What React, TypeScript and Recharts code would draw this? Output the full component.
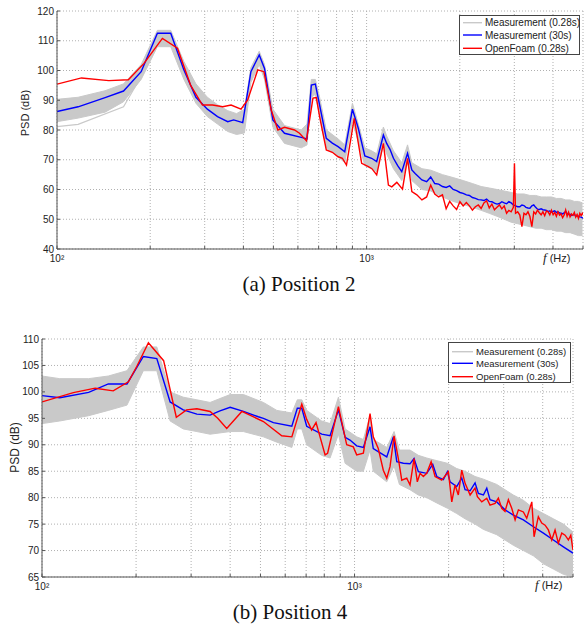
import React from 'react';
import { ComposedChart, Line, Area, XAxis, YAxis, CartesianGrid, Legend } from 'recharts';

type Pt = [number, number];
type Band = [number, number, number];

// shared axis ticks (Hz) - only 10^2 and 10^3 carry a label
const xTicks = [100, 200, 300, 400, 500, 600, 700, 800, 900, 1000, 2000, 3000, 4000, 5000];
const yTicksA = [40, 50, 60, 70, 80, 90, 100, 110, 120];
const yTicksB = [65, 70, 75, 80, 85, 90, 95, 100, 105, 110];
const seriesNames = ['Measurement (0.28s)', 'Measurement (30s)', 'OpenFoam (0.28s)'];
const captions = ['(a) Position 2', '(b) Position 4'];

// ---- Position 2 ----
// gray spread of the 0.28s measurement windows: [f, low, high]
const bandA: Band[] = [
  [100, 82.8, 90.3], [117, 84, 91], [143, 86, 93.2], [164, 89.5, 95.5], [187, 97, 102],
  [211, 108, 113.5], [233, 108, 113.5], [257, 97, 103], [281, 89, 95.5], [306, 84.5, 91],
  [330, 82, 88.5], [356, 79.5, 86.5], [380, 78.5, 85.5], [403, 79, 87], [423, 96, 101],
  [450, 102, 106.5], [468, 97, 102], [498, 81, 87], [543, 75.5, 81.5], [615, 74, 80],
  [642, 75, 82], [663, 91, 97], [683, 92, 97], [705, 85, 91], [741, 74, 80], [809, 71, 77],
  [850, 69, 75], [900, 83, 89], [940, 76, 82], [987, 68, 74], [1038, 67, 73], [1078, 66, 72],
  [1133, 75, 81], [1161, 72, 78], [1221, 67, 73], [1299, 63, 69], [1356, 69, 75], [1400, 63, 69],
  [1509, 60, 67], [1611, 59.5, 66.5], [1758, 57.5, 65], [1904, 56, 64], [2051, 55, 63],
  [2197, 54, 62], [2344, 53, 61], [2490, 52, 60.5], [2637, 51, 60], [2783, 50, 59.5],
  [2930, 49, 59], [3076, 48.5, 58.5], [3223, 48, 58.5], [3369, 47.5, 58], [3516, 47, 58],
  [3662, 47, 57.5], [3809, 46.5, 57.5], [3955, 46.5, 57.5], [4102, 46, 57], [4248, 46, 57],
  [4395, 45.5, 56.5], [4541, 45.5, 56.5], [4688, 45, 56], [4834, 44.5, 56], [4980, 44.5, 55.5],
];

// one low stray window of the 0.28s measurement
const strayA: Pt[] = [[100, 81.1], [117, 81.9], [164, 87.8], [187, 98]];

const blueA: Pt[] = [
  [100, 86.2], [117, 87.8], [143, 90.9], [164, 93.1], [187, 99.6], [211, 112.5], [233, 112.5],
  [257, 100.2], [281, 91], [306, 87], [330, 84.5], [356, 82.8], [372, 83.4], [398, 82.5],
  [423, 99.6], [450, 105.2], [468, 100.7], [498, 83.4], [543, 78.9], [615, 77.5], [642, 77],
  [663, 95.1], [683, 95.4], [705, 88.4], [741, 77.2], [775, 75.6], [809, 74.4], [850, 72.7],
  [900, 87], [940, 80.6], [987, 71.3], [1038, 70.5], [1078, 69.4], [1133, 78.3], [1161, 75.5],
  [1190, 73.5], [1221, 70.5], [1260, 68], [1299, 66], [1356, 72.2], [1400, 66.6], [1435, 65.4],
  [1509, 63.2], [1563, 62.6], [1611, 64.2], [1660, 62], [1709, 61.8], [1758, 61], [1807, 60.7],
  [1855, 61.2], [1904, 60], [1953, 59.6], [2002, 59], [2051, 58.7], [2100, 58.2], [2148, 58],
  [2197, 57.3], [2246, 57], [2295, 56.6], [2344, 56.5], [2393, 56.3], [2441, 56.8], [2490, 56],
  [2539, 55.9], [2588, 55.4], [2637, 55.1], [2686, 55.3], [2734, 55.9], [2783, 55.5], [2832, 55.2],
  [2881, 55.9], [2930, 55.5], [2979, 54.8], [3027, 54.5], [3076, 54.2], [3125, 54.2], [3174, 54.8],
  [3223, 54.6], [3271, 54], [3320, 53.8], [3369, 53.7], [3418, 54.5], [3467, 54.8], [3516, 54],
  [3564, 53.4], [3613, 53.3], [3662, 53.5], [3711, 53.2], [3760, 53.1], [3809, 53], [3857, 52.6],
  [3906, 52.8], [3955, 52.4], [4004, 52.6], [4053, 52.8], [4102, 52.3], [4150, 52.5], [4199, 52.1],
  [4248, 52], [4297, 51.8], [4346, 52.2], [4395, 52.6], [4443, 51.9], [4492, 51.6], [4541, 51.7],
  [4590, 51.3], [4639, 51.4], [4688, 51.7], [4736, 51], [4785, 51.3], [4834, 51], [4883, 50.8],
  [4932, 50.7], [4980, 50.5], [5029, 50.3],
];

const redA: Pt[] = [
  [100, 95.4], [120, 97.5], [147, 96.6], [170, 96.9], [191, 102.4], [219, 110.8], [245, 107.5],
  [270, 95.1], [295, 88.4], [318, 88.4], [343, 87.8], [365, 88.4], [393, 87], [413, 90.1],
  [445, 100.2], [466, 99.6], [492, 86.7], [517, 80], [543, 80.9], [585, 80], [607, 78.9],
  [639, 76.4], [671, 90.7], [688, 90.9], [705, 84.5], [741, 73.3], [775, 72.5], [809, 71],
  [835, 70.5], [861, 68.2], [912, 83.9], [964, 68.8], [1013, 67.7], [1040, 67], [1078, 64.9],
  [1133, 75.5], [1176, 61.5], [1206, 60.9], [1252, 62.4], [1306, 60.1], [1356, 70.5], [1400, 59.3],
  [1453, 58.2], [1509, 56.5], [1563, 57.5], [1611, 61.5], [1660, 58.5], [1709, 57.5], [1758, 58.2],
  [1807, 53.5], [1855, 56], [1904, 54.5], [1953, 53.3], [2002, 55.9], [2051, 54.5], [2100, 55.6],
  [2148, 54.5], [2197, 53.1], [2246, 54.2], [2295, 54.8], [2344, 53.6], [2393, 55.5], [2441, 56.2],
  [2490, 53.8], [2539, 55.1], [2588, 53.2], [2637, 54], [2686, 54.8], [2734, 53.5], [2783, 54.5],
  [2832, 52], [2881, 53], [2930, 52.5], [2979, 54], [3003, 68.8], [3027, 52], [3076, 52.5],
  [3125, 51.4], [3174, 47.5], [3223, 52], [3271, 51.5], [3320, 52.5], [3369, 50.9], [3418, 47.5],
  [3467, 52.5], [3516, 51.8], [3564, 53.1], [3613, 52.2], [3662, 51.5], [3711, 52.5], [3760, 51.2],
  [3809, 52.8], [3857, 52.5], [3906, 51.5], [3955, 53], [4004, 51.5], [4053, 52.3], [4102, 51],
  [4150, 52.5], [4199, 51.4], [4248, 51.8], [4297, 50.5], [4346, 51.4], [4395, 53.1], [4443, 51],
  [4492, 52.4], [4541, 50.8], [4590, 51.8], [4639, 51.3], [4688, 52.3], [4736, 50.7], [4785, 51.6],
  [4834, 50.3], [4883, 52], [4932, 51.2], [4980, 52], [5029, 51.5],
];

// ---- Position 4 ----
const bandB: Band[] = [
  [100, 94, 103], [114, 94.5, 102.5], [141, 95.5, 102.5], [163, 96.5, 103], [187, 97.5, 104],
  [211, 104, 108.5], [233, 104, 108.5], [257, 94.5, 100], [283, 93, 99], [313, 92.5, 98.5],
  [345, 92, 98], [400, 92.5, 99.5], [441, 92.5, 99.5], [511, 91.5, 98], [564, 90.5, 96.5],
  [630, 89.5, 96], [656, 93, 98.5], [678, 93, 98.5], [703, 90, 96.5], [785, 88, 94.5],
  [835, 87.5, 94], [888, 92, 99], [933, 86.5, 93], [1016, 85, 91.5], [1067, 85, 91],
  [1121, 89, 95.5], [1148, 85, 91], [1268, 83, 89.5], [1338, 86, 92.5], [1392, 82.5, 89],
  [1505, 81.5, 89], [1600, 80.5, 88], [1702, 80, 87.5], [1833, 79, 87], [1982, 78, 86.5],
  [2123, 77, 85.5], [2258, 76, 85], [2430, 75, 84], [2584, 74, 83.5], [2713, 73.5, 83],
  [2851, 73, 82.5], [3030, 72, 81.5], [3222, 71, 80.5], [3469, 70, 79.5], [3735, 69, 78],
  [4021, 67.5, 77], [4327, 66.5, 76], [4659, 65.5, 75], [5000, 65, 73.5],
];

const blueB: Pt[] = [
  [100, 99.3], [114, 98.9], [141, 99.9], [163, 101.5], [187, 101.5], [211, 106.7], [233, 106.3],
  [257, 98.1], [283, 96.6], [313, 95.8], [345, 95.6], [371, 96.4], [400, 97.1], [441, 96.3],
  [492, 95.3], [511, 95], [550, 94.2], [630, 93.5], [656, 96.9], [678, 96.9], [703, 93.5],
  [785, 92], [835, 91.7], [888, 96.6], [933, 91.4], [967, 90.9], [1016, 89.8], [1067, 89.5],
  [1121, 93.4], [1148, 89.3], [1268, 87.7], [1331, 91.5], [1365, 86.8], [1433, 86.5],
  [1505, 86.4], [1550, 87.4], [1600, 84.9], [1702, 84.6], [1779, 86.3], [1833, 84], [1924, 83.4],
  [1982, 84.9], [2021, 83], [2123, 82.1], [2203, 83.7], [2258, 81.5], [2343, 81.3], [2430, 82.8],
  [2490, 80.8], [2584, 80.5], [2649, 81.8], [2713, 79.6], [2851, 79.2], [3030, 77.7],
  [3222, 76.7], [3469, 75.8], [3735, 74.5], [4021, 73.3], [4327, 72], [4659, 70.7], [5000, 69.5],
];

const redB: Pt[] = [
  [100, 98.1], [126, 99.85], [148, 100.7], [169, 100.2], [189, 101.9], [201, 104.8], [219, 109.3],
  [245, 105.9], [269, 95.2], [290, 96.6], [313, 96.8], [345, 96.3], [365, 95], [390, 93.1],
  [436, 96.3], [511, 94.4], [585, 91.7], [630, 91.5], [678, 97.7], [703, 94.8], [729, 92.8],
  [753, 94.2], [805, 88.1], [820, 88.4], [888, 97.2], [944, 90], [991, 89.6], [1016, 88.1],
  [1067, 88.4], [1121, 95.9], [1148, 91.5], [1191, 89.3], [1236, 85.2], [1268, 83.7],
  [1299, 85.9], [1338, 91.7], [1380, 87.5], [1416, 83.3], [1469, 83.7], [1505, 82.4],
  [1550, 87.4], [1588, 83], [1621, 84.6], [1660, 84], [1702, 84.6], [1758, 86.8], [1810, 84],
  [1901, 83.3], [1996, 84.9], [2047, 79.2], [2097, 82.4], [2148, 80.5], [2203, 85.2],
  [2258, 82.7], [2343, 80.5], [2430, 81.8], [2472, 80.2], [2553, 79.2], [2649, 79.9],
  [2713, 78.6], [2816, 78.9], [2885, 79.9], [2958, 78], [3030, 77.4], [3106, 79.6], [3184, 78],
  [3264, 75.8], [3344, 77.7], [3469, 77.3], [3556, 76.1], [3691, 79.2], [3753, 72.6],
  [3873, 76.4], [3972, 75.2], [4071, 74.8], [4170, 73.9], [4275, 72], [4381, 73.9], [4488, 71.4],
  [4603, 73.3], [4717, 72.9], [4832, 72], [4919, 72.9], [5000, 70.1],
];

const GRAY = '#c9c9c9';
const BLUE = '#0000ff';
const RED = '#ff0000';
const SANS = '"Liberation Sans", Arial, sans-serif';
const SERIF = '"Liberation Serif", "Times New Roman", serif';

const xLabel = (v: number) => (v === 100 ? '10\u00b2' : v === 1000 ? '10\u00b3' : '');

function LegendBox({ w, h, font, rows, textX }: { w: number; h: number; font: number; rows: number[]; textX: number }) {
  const colors = [GRAY, BLUE, RED];
  return (
    <svg width={w} height={h} style={{ display: 'block' }}>
      <rect x={0.5} y={0.5} width={w - 1} height={h - 1} fill="#fff" stroke="#444" />
      {seriesNames.map((name, i) => (
        <g key={name}>
          <line x1={4} x2={textX - 3} y1={rows[i]} y2={rows[i]} stroke={colors[i]} strokeWidth={1.4} />
          <text x={textX} y={rows[i]} dy="0.35em" fontSize={font} fontFamily={SANS} fill="#222">
            {name}
          </text>
        </g>
      ))}
    </svg>
  );
}

interface PanelProps {
  top: number;
  band: Band[];
  stray?: Pt[];
  blue: Pt[];
  red: Pt[];
  yDomain: [number, number];
  yTicks: number[];
  marginLeft: number;
  marginRight: number;
  tickFont: number;
  psd: { x: number; y: number; size: number };
  fHz: { x: number; y: number };
  legend: { x: number; y: number; w: number; h: number; font: number; rows: number[]; textX: number };
  caption: string;
  captionX: number;
  captionY: number;
}

function PsdPanel(p: PanelProps) {
  const bandData = p.band.map(([f, lo, hi]) => ({ f, range: [lo, hi] }));
  const strayData = (p.stray || []).map(([f, v]) => ({ f, v }));
  const blueData = p.blue.map(([f, v]) => ({ f, v }));
  const redData = p.red.map(([f, v]) => ({ f, v }));
  const tick = { fontSize: p.tickFont, fill: '#222', fontFamily: SANS };

  return (
    <>
      <div style={{ position: 'absolute', left: 0, top: p.top }}>
        <ComposedChart
          width={584}
          height={280}
          data={bandData}
          margin={{ top: 11, right: p.marginRight, bottom: 11, left: p.marginLeft }}
        >
          <CartesianGrid stroke="#b0b0b0" strokeDasharray="1 2" />
          <XAxis
            dataKey="f"
            type="number"
            scale="log"
            domain={[100, 5000]}
            allowDataOverflow
            ticks={xTicks}
            interval={0}
            tickFormatter={xLabel}
            tickSize={-3}
            tickMargin={9}
            height={20}
            stroke="#555"
            tick={tick}
            label={{
              content: () => (
                <text x={p.fHz.x} y={p.fHz.y} fill="#222">
                  <tspan fontFamily={SERIF} fontStyle="italic" fontSize={13}>f</tspan>
                  <tspan fontFamily={SANS} fontSize={11} dx={3}>(Hz)</tspan>
                </text>
              ),
            }}
          />
          <YAxis
            type="number"
            domain={p.yDomain}
            allowDataOverflow
            ticks={p.yTicks}
            interval={0}
            width={40}
            tickSize={-3}
            tickMargin={6}
            stroke="#555"
            tick={tick}
            label={{
              content: () => (
                <text
                  x={p.psd.x}
                  y={p.psd.y}
                  transform={`rotate(-90, ${p.psd.x}, ${p.psd.y})`}
                  textAnchor="middle"
                  dominantBaseline="central"
                  fontSize={p.psd.size}
                  fontFamily={SANS}
                  fill="#222"
                >
                  PSD (dB)
                </text>
              ),
            }}
          />
          <Area
            dataKey="range"
            type="linear"
            stroke={GRAY}
            strokeWidth={1}
            fill={GRAY}
            fillOpacity={1}
            isAnimationActive={false}
          />
          {strayData.length > 0 && (
            <Line data={strayData} dataKey="v" type="linear" stroke={GRAY} strokeWidth={1.2} dot={false} isAnimationActive={false} />
          )}
          <Line data={blueData} dataKey="v" type="linear" stroke={BLUE} strokeWidth={1.4} dot={false} isAnimationActive={false} />
          <Line data={redData} dataKey="v" type="linear" stroke={RED} strokeWidth={1.4} dot={false} isAnimationActive={false} />
          <Legend
            layout="vertical"
            align="center"
            verticalAlign="middle"
            wrapperStyle={{ left: p.legend.x, top: p.legend.y, width: p.legend.w, height: p.legend.h }}
            content={() => (
              <LegendBox w={p.legend.w} h={p.legend.h} font={p.legend.font} rows={p.legend.rows} textX={p.legend.textX} />
            )}
          />
        </ComposedChart>
      </div>
      <div
        style={{
          position: 'absolute',
          left: p.captionX - 120,
          width: 240,
          top: p.captionY,
          textAlign: 'center',
          fontFamily: SERIF,
          fontSize: 21,
          lineHeight: '24px',
          color: '#111',
        }}
      >
        {p.caption}
      </div>
    </>
  );
}

export default function App() {
  return (
    <div style={{ position: 'absolute', left: 0, top: 0, width: 584, height: 628, background: '#fff', overflow: 'hidden' }}>
      <PsdPanel
        top={0}
        band={bandA}
        stray={strayA}
        blue={blueA}
        red={redA}
        yDomain={[40, 120]}
        yTicks={yTicksA}
        marginLeft={17}
        marginRight={1}
        tickFont={10}
        psd={{ x: 25, y: 113, size: 11 }}
        fHz={{ x: 543, y: 262 }}
        legend={{ x: 459, y: 15, w: 121, h: 40, font: 10, rows: [7.7, 20, 33.3], textX: 26 }}
        caption={captions[0]}
        captionX={299}
        captionY={272}
      />
      <PsdPanel
        top={328}
        band={bandB}
        blue={blueB}
        red={redB}
        yDomain={[65, 110]}
        yTicks={yTicksB}
        marginLeft={2}
        marginRight={11}
        tickFont={10}
        psd={{ x: 15, y: 119.5, size: 12 }}
        fHz={{ x: 535, y: 261 }}
        legend={{ x: 448, y: 14, w: 123, h: 41, font: 9.5, rows: [9.7, 21.3, 34.7], textX: 28 }}
        caption={captions[1]}
        captionX={290}
        captionY={600}
      />
    </div>
  );
}
